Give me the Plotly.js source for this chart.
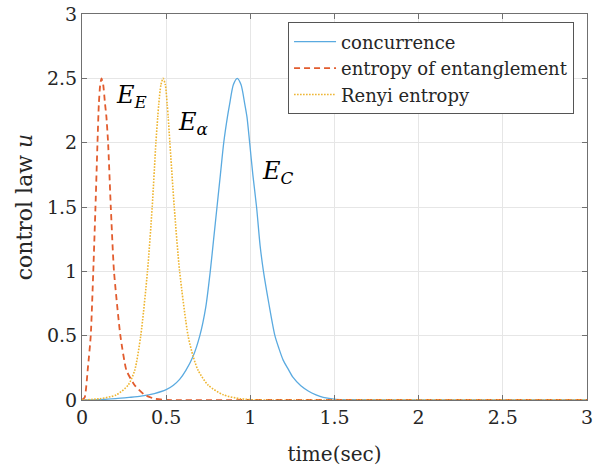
<!DOCTYPE html>
<html>
<head>
<meta charset="utf-8">
<script src="https://cdn.plot.ly/plotly-3.0.1.min.js"></script>
<style>html,body{margin:0;padding:0;background:#fff;}#chart{width:611px;height:469px;}</style>
</head>
<body>
<div id="chart"></div>
<script>
// concurrence (E_C)
const tC = [0, 0.1, 0.2, 0.28, 0.35, 0.43, 0.5, 0.543, 0.58, 0.617, 0.66, 0.70, 0.735, 0.762, 0.782, 0.802, 0.822, 0.842, 0.864, 0.877, 0.899, 0.922, 0.945, 0.967, 0.98, 0.996, 1.015, 1.037, 1.058, 1.078, 1.11, 1.146, 1.17, 1.195, 1.225, 1.254, 1.30, 1.344, 1.39, 1.433, 1.51, 1.6, 2, 3];
const uC = [0, 0.003, 0.01, 0.02, 0.03, 0.05, 0.08, 0.115, 0.16, 0.23, 0.34, 0.5, 0.72, 1.0, 1.25, 1.5, 1.75, 2.0, 2.2, 2.3, 2.45, 2.5, 2.45, 2.3, 2.2, 2.0, 1.75, 1.5, 1.2, 1.0, 0.75, 0.5, 0.4, 0.31, 0.24, 0.175, 0.11, 0.07, 0.04, 0.02, 0.005, 0.002, 0, 0];
// entropy of entanglement (E_E)
const tE = [0, 0.016, 0.035, 0.052, 0.067, 0.08, 0.092, 0.1, 0.108, 0.116, 0.126, 0.137, 0.145, 0.155, 0.171, 0.19, 0.228, 0.264, 0.313, 0.372, 0.43, 0.5, 1, 2, 3];
const uE = [0, 0.02, 0.25, 0.5, 1.0, 1.5, 2.0, 2.3, 2.45, 2.5, 2.45, 2.3, 2.2, 2.0, 1.5, 1.0, 0.5, 0.23, 0.115, 0.04, 0.01, 0, 0, 0, 0];
// Renyi entropy (E_alpha)
const tR = [0, 0.105, 0.204, 0.274, 0.313, 0.349, 0.389, 0.417, 0.439, 0.45, 0.456, 0.469, 0.482, 0.495, 0.506, 0.512, 0.522, 0.548, 0.58, 0.63, 0.66, 0.69, 0.75, 0.84, 0.94, 1.05, 2, 3];
const uR = [0, 0.01, 0.04, 0.115, 0.23, 0.5, 1.0, 1.5, 2.0, 2.2, 2.3, 2.45, 2.5, 2.45, 2.3, 2.2, 2.0, 1.5, 1.0, 0.5, 0.34, 0.23, 0.115, 0.04, 0.01, 0, 0, 0];

const seriesNames = ['concurrence', 'entropy of entanglement', 'Renyi entropy'];
const xTicks = [0, 0.5, 1, 1.5, 2, 2.5, 3];
const xTickText = ['0', '0.5', '1', '1.5', '2', '2.5', '3'];
const yTicks = [0, 0.5, 1, 1.5, 2, 2.5, 3];
const yTickText = ['0', '0.5', '1', '1.5', '2', '2.5', '3'];
const labels = ['<i>E</i><sub><i>E</i></sub>', '<i>E</i><sub><i>α</i></sub>', '<i>E</i><sub><i>C</i></sub>'];
const labelX = [0.19, 0.56, 1.055];
const labelY = [2.36, 2.15, 1.77];

const serif = 'DejaVu Serif, serif';
const traces = [
  {x: tC, y: uC, name: seriesNames[0], mode: 'lines', line: {color: '#5AAAE0', width: 1.3, dash: 'solid', shape: 'spline', smoothing: 0.7}},
  {x: tE, y: uE, name: seriesNames[1], mode: 'lines', line: {color: '#E25C2E', width: 1.8, dash: '6px,4px', shape: 'spline', smoothing: 0.5}},
  {x: tR, y: uR, name: seriesNames[2], mode: 'lines', line: {color: '#EEB530', width: 1.6, dash: '1.6px,1.4px', shape: 'spline', smoothing: 0.7}}
];

const axisCommon = {
  showgrid: true, gridcolor: '#e6e6e6', gridwidth: 1,
  showline: true, linecolor: '#707070', linewidth: 1, mirror: 'ticks',
  ticks: 'inside', ticklen: 5, tickcolor: '#707070', tickwidth: 1,
  zeroline: false, tickmode: 'array',
  tickfont: {family: serif, size: 19, color: '#262626'}
};

const layout = {
  width: 611, height: 469,
  margin: {l: 82, r: 24, t: 14, b: 69, pad: 0},
  paper_bgcolor: '#ffffff', plot_bgcolor: '#ffffff',
  showlegend: true,
  legend: {
    x: 0.408, y: 0.978, xanchor: 'left', yanchor: 'top',
    bordercolor: '#555555', borderwidth: 1, bgcolor: '#ffffff',
    font: {family: serif, size: 18, color: '#262626'},
    tracegroupgap: 0, itemwidth: 42
  },
  xaxis: Object.assign({}, axisCommon, {
    range: [0, 3], tickvals: xTicks, ticktext: xTickText,
    title: {text: 'time(sec)', font: {family: serif, size: 20, color: '#262626'}, standoff: 20}
  }),
  yaxis: Object.assign({}, axisCommon, {
    range: [0, 3], tickvals: yTicks, ticktext: yTickText,
    title: {text: 'control law <i>u</i>', font: {family: serif, size: 22, color: '#262626'}, standoff: 8}
  }),
  annotations: labels.map((t, i) => ({
    x: labelX[i], y: labelY[i], xref: 'x', yref: 'y', text: t, showarrow: false,
    xanchor: 'left', yanchor: 'middle',
    font: {family: serif, size: 24, color: '#000000'}
  }))
};

Plotly.newPlot('chart', traces, layout, {displayModeBar: false, staticPlot: true});
</script>
</body>
</html>
